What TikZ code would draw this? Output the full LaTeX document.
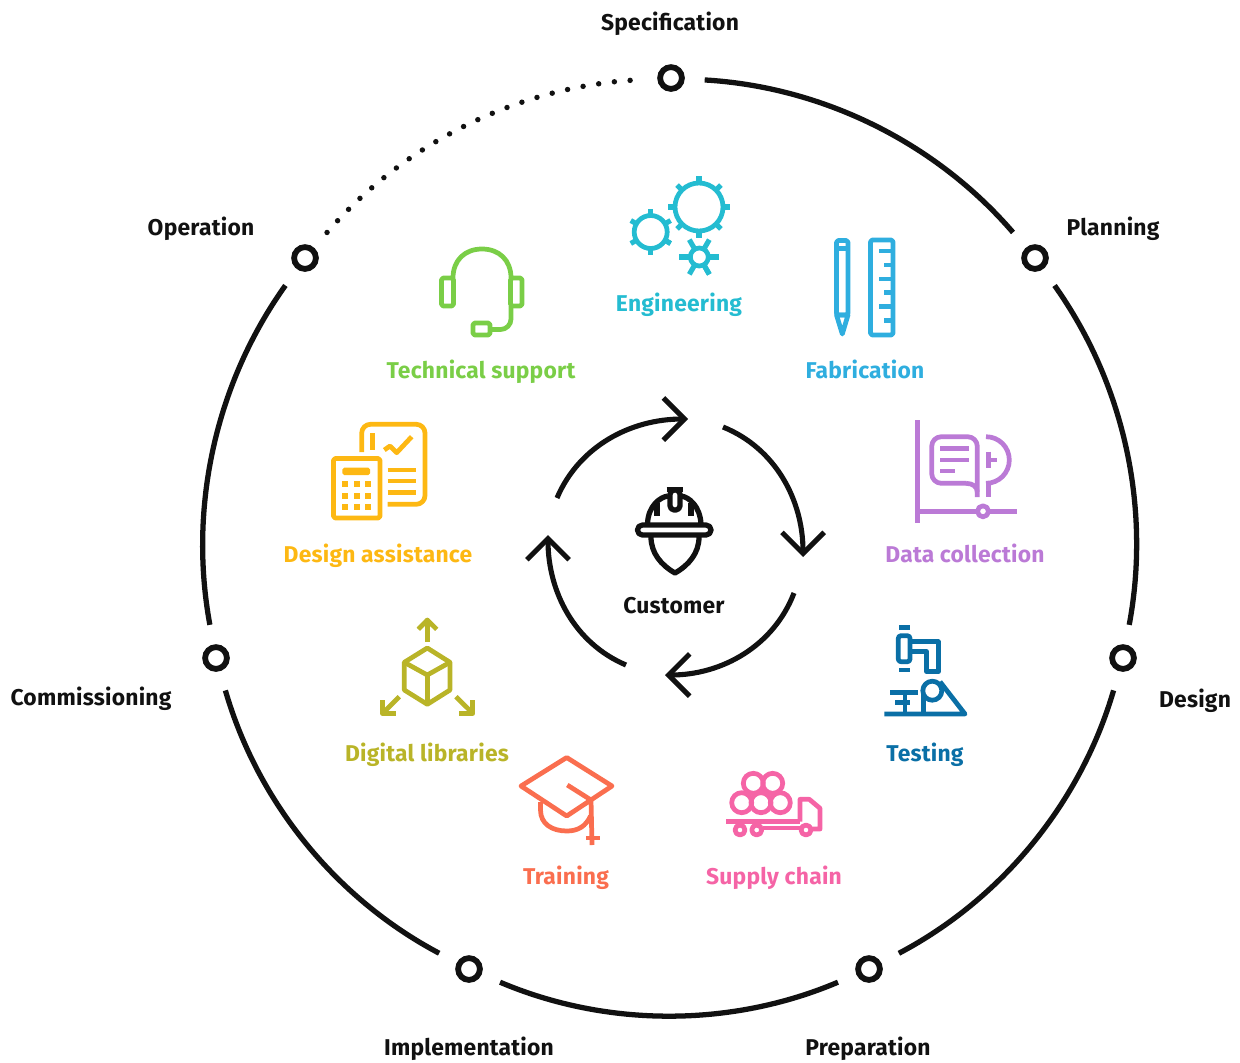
\documentclass[tikz,border=0pt]{standalone}
\usepackage{fontspec}
\setmainfont{Fira Sans}[LetterSpace=1.0]
\definecolor{inkblack}{RGB}{17, 17, 17}
\definecolor{techgreen}{RGB}{122, 206, 71}
\definecolor{engteal}{RGB}{36, 188, 209}
\definecolor{fabblue}{RGB}{47, 174, 223}
\definecolor{datapurple}{RGB}{187, 122, 214}
\definecolor{assistamber}{RGB}{253, 184, 19}
\definecolor{testblue}{RGB}{10, 111, 166}
\definecolor{libolive}{RGB}{185, 180, 40}
\definecolor{trainorange}{RGB}{250, 110, 79}
\definecolor{supplypink}{RGB}{245, 100, 166}
\usetikzlibrary{arrows.meta, positioning, calc}
\tikzset{
  ringnode/.style={draw=inkblack, fill=white, circle, line width=3.3pt, minimum size=12.4pt, inner sep=0pt, outer sep=13pt},
  ringlabel/.style={text=inkblack, font=\fontsize{13}{15}\selectfont\bfseries, inner sep=0pt, anchor=base},
  tasklabel/.style={font=\fontsize{13}{15}\selectfont\bfseries, inner sep=0pt, anchor=base},
  ringline/.style={draw=inkblack, line width=3pt, bend left=23, looseness=0.88},
  cyclearrow/.style={draw=inkblack, line width=2.9pt, looseness=0.95, -{Straight Barb[length=12pt, width=24pt]}},
  iconline/.style={line width=2.7pt, line join=round}
}

\begin{document}
\begin{tikzpicture}[x=0.02cm, y=-0.02cm]
  \useasboundingbox (0, 0) rectangle (1240, 1062);

  % Outer ring
  \node[ringnode] (specnode) at (671, 78) {};
  \node[ringnode] (plannode) at (1035, 258) {};
  \node[ringnode] (designnode) at (1123, 658) {};
  \node[ringnode] (prepnode) at (869, 969) {};
  \node[ringnode] (implnode) at (469, 969) {};
  \node[ringnode] (commnode) at (216, 658) {};
  \node[ringnode] (opernode) at (305, 258) {};
  \draw[ringline] (specnode) to (plannode);
  \draw[ringline] (plannode) to (designnode);
  \draw[ringline] (designnode) to (prepnode);
  \draw[ringline] (prepnode) to (implnode);
  \draw[ringline] (implnode) to (commnode);
  \draw[ringline] (commnode) to (opernode);
  \draw[ringline, line width=3.1pt, line cap=round, dash pattern=on 0pt off 9pt] (opernode) to (specnode);

  \node[ringlabel] (speclabel) at (670, 30) {Specification};
  \node[ringlabel] (planlabel) at (1113, 235) {Planning};
  \node[ringlabel] (designlabel) at (1195, 707) {Design};
  \node[ringlabel] (preplabel) at (868, 1055) {Preparation};
  \node[ringlabel] (impllabel) at (469, 1055) {Implementation};
  \node[ringlabel] (commlabel) at (91, 705) {Commissioning};
  \node[ringlabel] (operlabel) at (201, 235) {Operation};

  % Inner cycle
  \coordinate (cyca) at (557, 498);
  \coordinate (cycb) at (688, 419);
  \coordinate (cycc) at (723, 427);
  \coordinate (cycd) at (803, 557);
  \coordinate (cyce) at (794, 593);
  \coordinate (cycf) at (665, 675);
  \coordinate (cycg) at (626, 665);
  \coordinate (cych) at (548, 535);
  \draw[cyclearrow] (cyca) to[out=67, in=180] (cycb);
  \draw[cyclearrow] (cycc) to[out=-22, in=90] (cycd);
  \draw[cyclearrow] (cyce) to[out=-111, in=0] (cycf);
  \draw[cyclearrow] (cycg) to[out=157, in=-90] (cych);

  % Customer
  \begin{scope}[iconline, line width=3pt, draw=inkblack]
    \draw[rounded corners=2.8pt] (637.5, 525) rectangle (711, 535);
    \draw (647.5, 524) .. controls (648, 506) and (660, 497) .. (668, 496);
    \draw (701, 524) .. controls (700, 506) and (689, 497) .. (681, 496);
    \draw[rounded corners=2.4pt] (670, 490) rectangle (680, 510);
    \draw (666.5, 489.5) -- (682.5, 489.5);
    \draw (657, 503) -- (657, 516);
    \draw (691, 503) -- (691, 516);
    \draw (651, 537) .. controls (651, 553) and (661, 565) .. (675, 573) .. controls (689, 565) and (699, 553) .. (699, 537);
  \end{scope}
  \node[ringlabel] (customerlabel) at (674, 613) {Customer};

  % Technical support
  \begin{scope}[iconline, draw=techgreen]
    \draw[rounded corners=1pt] (441.5, 278) rectangle (453.5, 306);
    \draw[rounded corners=1pt] (510.5, 278) rectangle (522, 306);
    \draw (453, 278) .. controls (453, 260) and (465, 249) .. (482, 249) .. controls (499, 249) and (511, 260) .. (511, 278);
    \draw[rounded corners=6pt] (511, 306) -- (511, 329.5) -- (490, 329.5);
    \draw[rounded corners=1pt] (473, 323) rectangle (490, 335);
  \end{scope}
  \node[tasklabel, text=techgreen] (techlabel) at (481, 378) {Technical support};

  % Engineering
  \foreach \cx/\cy/\rr/\rt/\st/\so in {699/207/24/31/45/0, 650.7/232/16.5/23/60/30, 699.3/257/9/20/60/0} {
    \begin{scope}[shift={(\cx, \cy)}, iconline, draw=engteal]
      \draw (0, 0) circle[radius=\rr];
      \foreach \num in {0, ..., 7}
        \draw[line width=2.9pt] ({\so+\num*\st}:\rr) -- ({\so+\num*\st}:\rt);
    \end{scope}
  }
  \node[tasklabel, text=engteal] (englabel) at (679, 311) {Engineering};

  % Fabrication
  \begin{scope}[iconline, draw=fabblue]
    \draw[rounded corners=1pt] (836.5, 240.5) rectangle (848, 315);
    \draw (836.5, 248.5) -- (848, 248.5);
    \draw (836.5, 315) -- (842.3, 334) -- (848, 315) -- cycle;
    \draw[rounded corners=1pt] (870.5, 240) rectangle (893, 335);
    \foreach \ty in {251, 279, 306.7}
      \draw (879, \ty) -- (893, \ty);
    \foreach \ty in {265, 292.7, 320.7}
      \draw (884.3, \ty) -- (893, \ty);
  \end{scope}
  \node[tasklabel, text=fabblue] (fablabel) at (865, 378) {Fabrication};

  % Data collection
  \begin{scope}[iconline, draw=datapurple]
    \draw (917.3, 420) -- (917.3, 522.7);
    \draw (917.3, 511.3) -- (1017.3, 511.3);
    \draw[fill=white] (983, 511.3) circle[radius=5.5];
    \draw[rounded corners=5.5pt] (977.3, 497) -- (977.3, 436.7) -- (931.7, 436.7) -- (931.7, 483.3) -- (966, 483.3);
    \draw (966, 483.3) .. controls (973, 483.3) and (977.3, 487) .. (977.3, 492);
    \draw (940, 448.3) -- (969, 448.3);
    \draw (940, 460) -- (969, 460);
    \draw (940, 471) -- (954.7, 471);
    \draw (986, 436.7) to[out=0, in=90] (1009.3, 460) to[out=-90, in=0] (986, 483.3);
    \draw (988.3, 483.3) -- (988.3, 496.7);
    \draw (988.3, 451.7) -- (988.3, 468.3);
    \draw (988.3, 460) -- (996.7, 460);
  \end{scope}
  \node[tasklabel, text=datapurple] (datalabel) at (965, 562) {Data collection};

  % Design assistance
  \begin{scope}[iconline, draw=assistamber]
    \draw[rounded corners=1pt] (333.5, 458.5) rectangle (380, 518);
    \fill[assistamber, rounded corners=1pt] (342.3, 467.7) rectangle (370, 475);
    \foreach \bx in {345, 356.7, 367.7}
      \foreach \by in {484, 495.7, 506.7}
        \fill[assistamber] (\bx-2.8, \by-2.8) rectangle (\bx+2.8, \by+2.8);
    \draw[rounded corners=5pt] (361.7, 452) -- (361.7, 424.3) -- (425, 424.3) -- (425, 504.3) -- (387.7, 504.3);
    \draw (372.7, 433) -- (372.7, 450);
    \draw (384.3, 450) -- (390, 446) -- (396.7, 452.7) -- (411.7, 436.7);
    \foreach \ty in {470, 481, 492.7}
      \draw (387.7, \ty) -- (416, \ty);
  \end{scope}
  \node[tasklabel, text=assistamber] (assistlabel) at (378, 562) {Design assistance};

  % Digital libraries
  \begin{scope}[iconline, draw=libolive]
    \draw (427.3, 648) -- (450, 662.3) -- (450, 690) -- (427.3, 704.3) -- (404.3, 690) -- (404.3, 662.3) -- cycle;
    \draw (404.3, 662.3) -- (427.3, 675) -- (450, 662.3);
    \draw (427.3, 675) -- (427.3, 704.3);
    \draw (427.3, 641.7) -- (427.3, 620);
    \draw (418.3, 629.3) -- (427.3, 620) -- (436.7, 629.3);
    \draw (399.3, 696.7) -- (382.7, 713.3);
    \draw (382.7, 700) -- (382.7, 713.5) -- (396, 713.5);
    \draw (456, 696.7) -- (472.7, 713.3);
    \draw (472.7, 700) -- (472.7, 713.5) -- (459, 713.5);
  \end{scope}
  \node[tasklabel, text=libolive] (liblabel) at (427, 761) {Digital libraries};

  % Training
  \begin{scope}[iconline, draw=trainorange]
    \draw (566.7, 757.5) -- (612, 786) -- (566.7, 816) -- (521, 786) -- cycle;
    \draw (567.3, 785) -- (591, 800) -- (592, 845);
    \draw (586, 838) -- (600, 838);
    \draw (540.5, 802) -- (540.5, 810) .. controls (540.5, 824) and (552, 831) .. (567, 831) .. controls (578, 831) and (586, 826) .. (590.5, 816);
  \end{scope}
  \node[tasklabel, text=trainorange] (trainlabel) at (566, 884) {Training};

  % Supply chain
  \begin{scope}[iconline, draw=supplypink]
    \foreach \px/\py in {753.3/783.3, 772.7/783.3, 741.7/802.7, 761/802.7, 780.3/802.7}
      \draw (\px, \py) circle[radius=10];
    \draw (726, 821.5) -- (800, 821.5);
    \draw (800, 821.7) -- (800, 799.3) -- (809.3, 799.3) -- (820, 808.3) -- (820, 829) -- (812, 829);
    \draw (763, 828) -- (800, 828);
    \foreach \wx in {740, 756.7, 806}
      \draw[fill=white] (\wx, 830) circle[radius=5];
  \end{scope}
  \node[tasklabel, text=supplypink] (supplylabel) at (774, 884) {Supply chain};

  % Testing
  \begin{scope}[iconline, draw=testblue]
    \draw (899, 627.3) -- (910, 627.3);
    \draw[rounded corners=1.5pt] (898.3, 635.7) rectangle (910, 661.7);
    \draw (910, 641.7) -- (938.3, 641.7) -- (938.3, 671.7) -- (926.7, 671.7) -- (926.7, 651.7) -- (910, 651.7);
    \draw (899, 670) -- (910, 670);
    \draw (890, 692.7) -- (917.7, 692.7);
    \draw (895, 702.3) -- (910, 702.3);
    \draw (905, 692.7) -- (905, 714);
    \draw (884.3, 714) -- (965, 714) -- (940, 681.7);
    \draw (923.3, 692) -- (923.3, 714);
    \draw[fill=white] (932.3, 690.7) circle[radius=9.5];
  \end{scope}
  \node[tasklabel, text=testblue] (testlabel) at (925, 761) {Testing};
\end{tikzpicture}
\end{document}
